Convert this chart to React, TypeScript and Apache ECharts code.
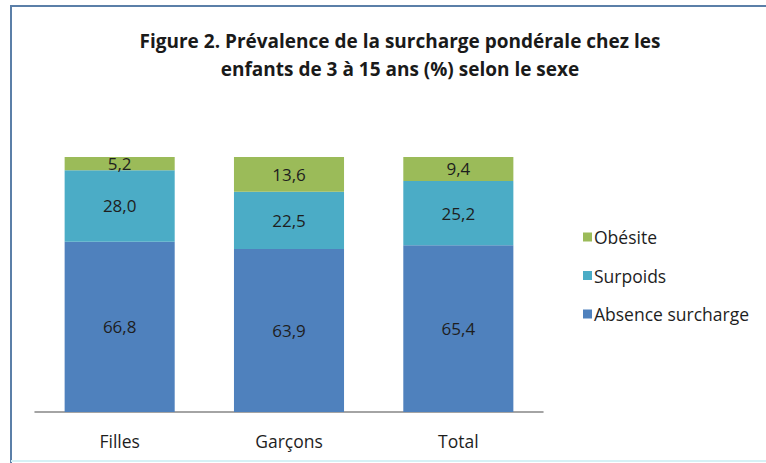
import React, { useEffect, useRef } from "react";
import * as echarts from "echarts";

const categories = ["Filles", "Garçons", "Total"];
const absenceSurcharge = [66.8, 63.9, 65.4];
const surpoids = [28.0, 22.5, 25.2];
const obesite = [5.2, 13.6, 9.4];
const seriesNames = ["Absence surcharge", "Surpoids", "Obésite"];
const titleLines = [
  "Figure 2. Prévalence de la surcharge pondérale chez les",
  "enfants de 3 à 15 ans (%) selon le sexe",
];

const FONT = "'Open Sans', 'Noto Sans', sans-serif";

export default function App() {
  const ref = useRef<HTMLDivElement>(null);
  useEffect(() => {
    if (!ref.current) return;
    const chart = echarts.init(ref.current, null, { renderer: "svg" });
    const fmt = (p: any) => Number(p.value).toFixed(1).replace(".", ",");
    const mk = (name: string, data: number[], color: string) => ({
      name,
      type: "bar",
      stack: "total",
      data,
      barWidth: "65%",
      itemStyle: { color },
      label: {
        show: true,
        position: "inside",
        formatter: fmt,
        color: "#1e1e1e",
        fontSize: 17,
        fontFamily: FONT,
      },
    });
    chart.setOption({
      animation: false,
      backgroundColor: "#ffffff",
      title: {
        text: titleLines.join("\n"),
        left: 395,
        textAlign: "center",
        top: 22,
        textStyle: {
          fontFamily: FONT,
          fontWeight: "bold",
          fontSize: 19,
          lineHeight: 28,
          color: "#1a1a1a",
        },
      },
      legend: {
        orient: "vertical",
        left: 578,
        top: 223,
        itemWidth: 9,
        itemHeight: 9,
        itemGap: 20.5,
        icon: "rect",
        data: [seriesNames[2], seriesNames[1], seriesNames[0]],
        textStyle: { fontFamily: FONT, fontSize: 17.5, color: "#1e1e1e", padding: [0, 0, 0, -3] },
      },
      grid: { left: 35, right: 223, top: 157, bottom: 51 },
      xAxis: {
        type: "category",
        data: categories,
        axisTick: { show: false },
        axisLine: { lineStyle: { color: "#868686", width: 1.5 } },
        axisLabel: { color: "#1e1e1e", fontSize: 17.5, fontFamily: FONT, margin: 20 },
      },
      yAxis: { type: "value", min: 0, max: 100, show: false, splitLine: { show: false } },
      series: [
        mk(seriesNames[0], absenceSurcharge, "#4F81BD"),
        mk(seriesNames[1], surpoids, "#4BACC6"),
        mk(seriesNames[2], obesite, "#9BBB59"),
      ],
      graphic: [
        { type: "line", shape: { x1: 11, y1: 6, x2: 766, y2: 6 }, style: { stroke: "#5b7fa8", lineWidth: 2 } },
        { type: "line", shape: { x1: 11, y1: 5, x2: 11, y2: 463 }, style: { stroke: "#5b7fa8", lineWidth: 2 } },
        { type: "line", shape: { x1: 11, y1: 461, x2: 766, y2: 461 }, style: { stroke: "#d6f1f5", lineWidth: 2 } },
      ],
    });
    return () => chart.dispose();
  }, []);
  return (
    <div
      ref={ref}
      style={{ position: "fixed", left: 0, top: 0, width: 766, height: 463 }}
    />
  );
}
